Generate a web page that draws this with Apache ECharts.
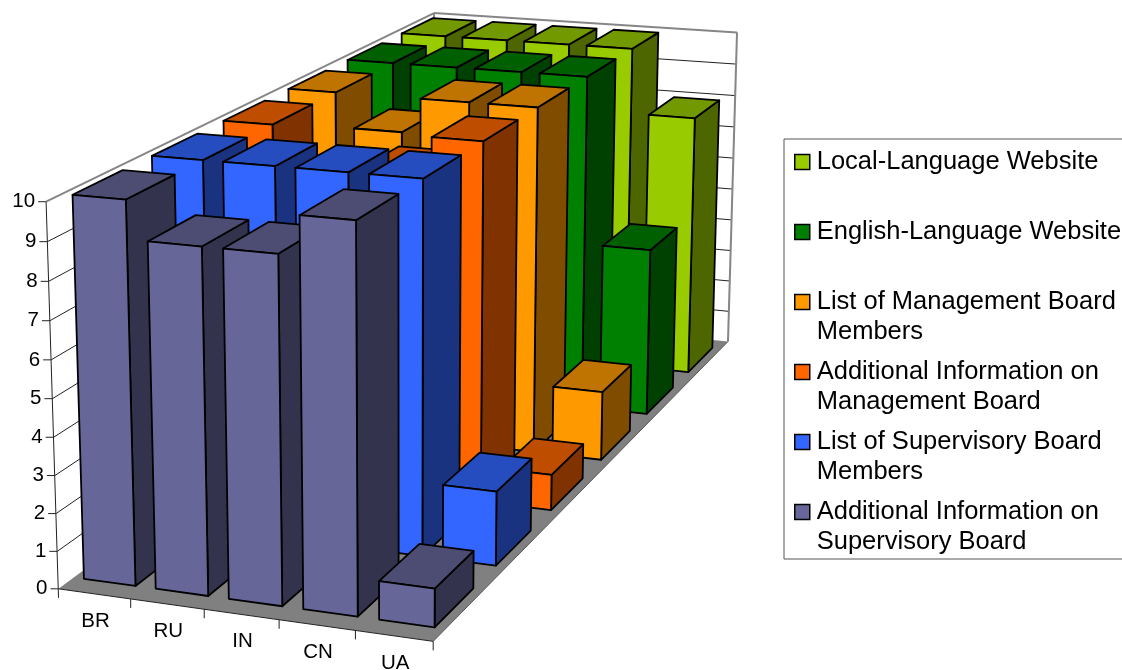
<!DOCTYPE html>
<html><head><meta charset="utf-8">
<style>html,body{margin:0;padding:0;background:#fff}#c{width:1122px;height:670px}</style>
<script src="https://cdn.jsdelivr.net/npm/echarts@6/dist/echarts.min.js"></script>
</head><body><div id="c"></div>
<script>
const categories = ['BR','RU','IN','CN','UA'];
const valueTicks = [0,1,2,3,4,5,6,7,8,9,10];
const seriesNames = ['Local-Language Website','English-Language Website','List of Management Board\nMembers','Additional Information on\nManagement Board','List of Supervisory Board\nMembers','Additional Information on\nSupervisory Board'];
const localWebsite = [10,10,10,10,8];
const englishWebsite = [10,10,10,10,5];
const listManagement = [10,9,10,10,2];
const addlManagement = [10,8,9,10,1];
const listSupervisory = [10,10,10,10,2];
const addlSupervisory = [10,9,9,10,1];
const seriesValues = [localWebsite,englishWebsite,listManagement,addlManagement,listSupervisory,addlSupervisory];
const frontColors = ['#99CC00','#008000','#FF9900','#FF6600','#3366FF','#666699'];
const topColors = ['#739900','#006000','#BF7300','#BF4D00','#264DBF','#4D4D73'];
const sideColors = ['#4D6600','#004000','#804D00','#803300','#1A3380','#33334D'];

// perspective calibration: world (category, value, depth) -> screen
const calib = [
 [0,0,0,59,589],[1,0,0,130,599],[2,0,0,204,609.5],[3,0,0,279,620],[4,0,0,356,630.5],[5,0,0,433,641],
 [5,0,6,728,341],[0,10,0,46,202],[5,10,6,737,32],[0,10,6,434,13],
 [0,5,0,52.7,398],[5,5,6,732.5,190]
];
function solve(A,b){const n=b.length;for(let i=0;i<n;i++){let p=i;for(let r=i+1;r<n;r++)if(Math.abs(A[r][i])>Math.abs(A[p][i]))p=r;[A[i],A[p]]=[A[p],A[i]];[b[i],b[p]]=[b[p],b[i]];for(let r=i+1;r<n;r++){const f=A[r][i]/A[i][i];for(let c=i;c<n;c++)A[r][c]-=f*A[i][c];b[r]-=f*b[i];}}const x=new Array(n);for(let i=n-1;i>=0;i--){let s=b[i];for(let c=i+1;c<n;c++)s-=A[i][c]*x[c];x[i]=s/A[i][i];}return x;}
const M=(()=>{const N=Array.from({length:11},()=>new Array(11).fill(0)),R=new Array(11).fill(0);
 const add=(row,t)=>{for(let i=0;i<11;i++){R[i]+=row[i]*t;for(let j=0;j<11;j++)N[i][j]+=row[i]*row[j];}};
 calib.forEach(([X,Y,Z,u,v])=>{add([X,Y,Z,1,0,0,0,0,-u*X,-u*Y,-u*Z],u);add([0,0,0,0,X,Y,Z,1,-v*X,-v*Y,-v*Z],v);});
 return solve(N,R);})();
function proj(x,y,z){const w=M[8]*x+M[9]*y+M[10]*z+1;return [(M[0]*x+M[1]*y+M[2]*z+M[3])/w,(M[4]*x+M[5]*y+M[6]*z+M[7])/w];}

const gapX=0.14, gapZ=0.19, EDGE=1.8;
const GRID={left:0,top:0,width:1000,height:600};
function toWorld(api,cat,val){const c=api.coord([cat,val]);return [(c[0]-GRID.left)/GRID.width*categories.length,(GRID.top+GRID.height-c[1])/GRID.height*10];}
function poly(points,fill,stroke,lw){return {type:'polygon',shape:{points},style:{fill,stroke,lineWidth:lw,lineJoin:'round'}};}
function seg(a,b,stroke,lw){return {type:'line',shape:{x1:a[0],y1:a[1],x2:b[0],y2:b[1]},style:{stroke,lineWidth:lw}};}

function barItem(depth){return function(params,api){
 const w=toWorld(api,api.value(0),api.value(1));
 const half=api.size([1,0])[0]/GRID.width*categories.length/2;
 const x0=w[0]-half+gapX,x1=w[0]+half-gapX,y=w[1],z0=depth+gapZ,z1=depth+1-gapZ;
 const f0=proj(x0,0,z0),f1=proj(x1,0,z0),f2=proj(x1,y,z0),f3=proj(x0,y,z0);
 const b1=proj(x1,0,z1),b2=proj(x1,y,z1),b3=proj(x0,y,z1);
 const i=params.seriesIndex-1;
 return {type:'group',children:[
  poly([f1,b1,b2,f2],sideColors[i],'#000',EDGE),
  poly([f3,f2,b2,b3],topColors[i],'#000',EDGE),
  poly([f0,f1,f2,f3],frontColors[i],'#000',EDGE)]};
};}

function frameItem(params,api){
 const nC=categories.length,nD=seriesNames.length;const ch=[];
 ch.push(poly([proj(0,0,0),proj(nC,0,0),proj(nC,0,nD),proj(0,0,nD)],'#808080','none',0));
 valueTicks.forEach(v=>{const w=toWorld(api,0,v)[1];
  if(v>0&&v<10){ch.push(seg(proj(0,w,0),proj(0,w,nD),'#222',1));ch.push(seg(proj(0,w,nD),proj(nC,w,nD),'#222',1));}
  const t=proj(0,w,0);ch.push(seg([t[0]-8,t[1]],t,'#222',1));
  ch.push({type:'text',style:{text:String(v),x:t[0]-11,y:t[1],align:'right',verticalAlign:'middle',font:'20.5px "Liberation Sans"',fill:'#000'}});
 });
 ch.push(seg(proj(0,10,0),proj(0,10,nD),'#868686',2));
 ch.push(seg(proj(0,10,nD),proj(nC,10,nD),'#868686',2));
 ch.push(seg(proj(nC,10,nD),proj(nC,0,nD),'#868686',2));
 ch.push(seg(proj(0,0,nD),proj(0,10,nD),'#868686',2));
 const a0=proj(0,0,0);ch.push(seg(proj(0,10,0),[a0[0],a0[1]+9],'#222',1));
 ch.push(seg(proj(0,0,0),proj(nC,0,0),'#222',1));
 ch.push(seg(proj(nC,0,0),proj(nC,0,nD),'#555',1));
 for(let i=1;i<=nC;i++){const t=proj(i,0,0);ch.push(seg(t,[t[0],t[1]+9],'#222',1));}
 categories.forEach((c,i)=>{const t=proj(i+.5,0,0);ch.push({type:'text',style:{text:c,x:t[0]+1,y:t[1]+27,align:'center',verticalAlign:'middle',font:'20.5px "Liberation Sans"',fill:'#000'}});});
 return {type:'group',children:ch};
}

const series=[{type:'custom',name:'frame',silent:true,renderItem:frameItem,data:[[0,0]],clip:false,encode:{x:0,y:1}}];
seriesNames.forEach((n,s)=>{series.push({type:'custom',name:n,silent:true,clip:false,renderItem:barItem(seriesNames.length-1-s),
 itemStyle:{color:frontColors[s]},encode:{x:0,y:1},
 data:seriesValues[s].map((v,i)=>[i,v])});});

const chart=echarts.init(document.getElementById('c'),null,{renderer:'canvas'});
chart.setOption({
 animation:false,backgroundColor:'#fff',
 grid:GRID,
 xAxis:{type:'category',data:categories,show:false},
 yAxis:{type:'value',min:0,max:10,interval:1,show:false},
 legend:{orient:'vertical',left:784,top:139,padding:[-22,200,2,10],itemGap:-20,itemWidth:15,itemHeight:15,
  backgroundColor:'#fff',borderColor:'#555',borderWidth:1,selectedMode:false,
  textStyle:{fontFamily:'Liberation Sans',fontSize:25.5,lineHeight:30,color:'#000',padding:[0,0,0,2]},
  formatter:n=>{const l=n.split('\n');return ['',l[0],l[1]||''].join('\n');},
  data:seriesNames.map((n,s)=>({name:n,icon:'rect',itemStyle:{color:frontColors[s],borderColor:'#000',borderWidth:1.5}}))},
 series
});
</script></body></html>
